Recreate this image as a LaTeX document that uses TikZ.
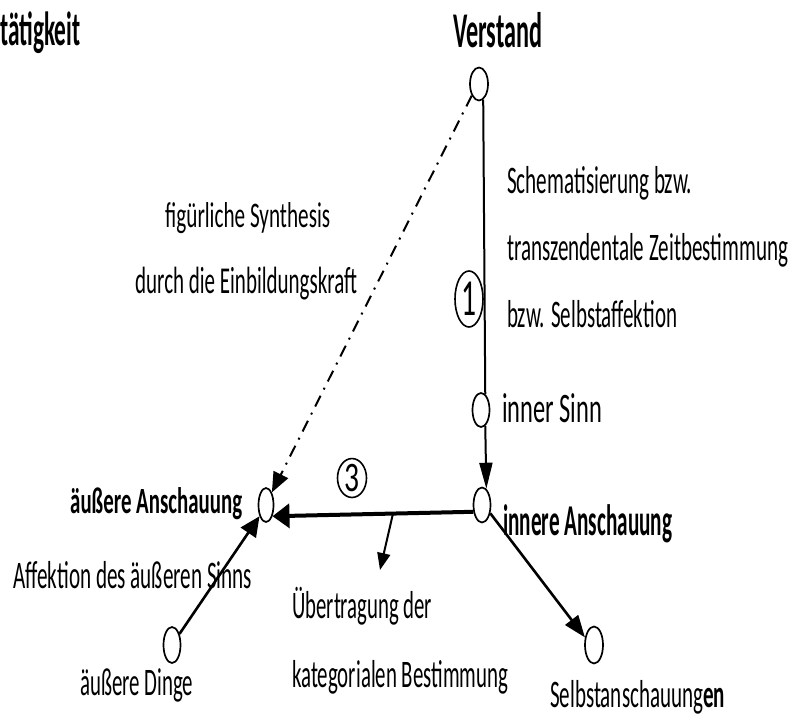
\documentclass[tikz,border=0pt]{standalone}
\usepackage{fontspec}
\setmainfont{Carlito}
\usepackage{graphicx}
\usetikzlibrary{arrows.meta,shapes.geometric}
\newcommand\tx[3]{\resizebox{#2}{\height}{\fontsize{#1}{#1}\selectfont #3}}
\begin{document}
\begin{tikzpicture}[x=1pt,y=-1pt,
  pt/.style={ellipse, draw, line width=1.7pt, inner sep=0, minimum width=17pt, minimum height=34pt},
  lbl/.style={inner sep=0, anchor=base west},
  num/.style={ellipse, draw, line width=1.6pt, inner sep=0},
  conn/.style={line width=2pt},
  arr/.style={line width=2.6pt}]
\useasboundingbox (0,0) rectangle (806,720);
% points
\node[pt, minimum width=18pt, minimum height=33pt] (V) at (479,84) {};
\node[pt] (IS) at (481,410) {};
\node[pt, minimum height=35pt] (IA) at (482,505) {};
\node[pt, minimum width=15pt] (AA) at (266,505) {};
\node[pt, minimum height=36pt] (AD) at (172,645) {};
\node[pt, minimum width=18pt, minimum height=37pt] (SA) at (594,645) {};
% labels
\node[lbl] (t1) at (0,45) {\tx{48}{80pt}{\bfseries tätigkeit}};
\node[lbl] (t2) at (453,47) {\tx{50}{89pt}{\bfseries Verstand}};
\node[lbl] (t3) at (507,193) {\tx{39}{185pt}{Schematisierung bzw.}};
\node[lbl] (t4) at (507,260) {\tx{39}{281pt}{transzendentale Zeitbestimmung}};
\node[lbl] (t5) at (507,327) {\tx{39}{170pt}{bzw. Selbstaffektion}};
\node[lbl] (t6) at (165,227) {\tx{36}{165pt}{figürliche Synthesis}};
\node[lbl] (t7) at (135,293) {\tx{38}{222pt}{durch die Einbildungskraft}};
\node[lbl] (t8) at (502,422) {\tx{42}{100pt}{inner Sinn}};
\node[lbl] (t9) at (503,535) {\tx{44}{169pt}{\bfseries innere Anschauung}};
\node[lbl] (t10) at (70,513) {\tx{37}{172pt}{\bfseries äußere Anschauung}};
\node[lbl] (t11) at (13,588) {\tx{39}{239pt}{Affektion des äußeren Sinns}};
\node[lbl] (t12) at (80,695) {\tx{39}{113pt}{äußere Dinge}};
\node[lbl] (t13) at (292,618) {\tx{39}{140pt}{Übertragung der}};
\node[lbl] (t14) at (292,687) {\tx{39}{216pt}{kategorialen Bestimmung}};
\node[lbl] (t15) at (550,707) {\tx{39}{175pt}{Selbstanschauung\textbf{en}}};
% circled numbers
\node[num, minimum width=28pt, minimum height=56pt] (n1) at (469,299) {\tx{52}{15pt}{1}};
\node[num, minimum width=29pt, minimum height=34pt] (n3) at (352,478) {\tx{42}{15pt}{3}};
% connectors
\draw[conn] (V.-75) -- (IS.75);
\draw[conn, -{Triangle[length=26pt,width=13pt]}] (IS.-75) -- (IA.75);
\draw[line width=4pt, -{Triangle[length=17pt,width=24pt]}] (IA.218) -- (AA.-60);
\draw[conn, dash pattern=on 12pt off 7pt on 2pt off 7pt, -{Triangle[length=20pt,width=16pt]}] (V.-122) -- (AA.65);
\draw[arr, -{Triangle[length=20pt,width=18pt]}] (AD.56) -- (AA.-120);
\draw[arr, -{Triangle[length=22pt,width=16pt]}] (IA.-45) -- (SA.140);
\path (IA.218) -- (AA.-60) coordinate[pos=0.40] (m);
\coordinate (ue) at (380,570);
\draw[conn, -{Triangle[length=17pt,width=13pt]}] (m) -- (ue);
\end{tikzpicture}
\end{document}
